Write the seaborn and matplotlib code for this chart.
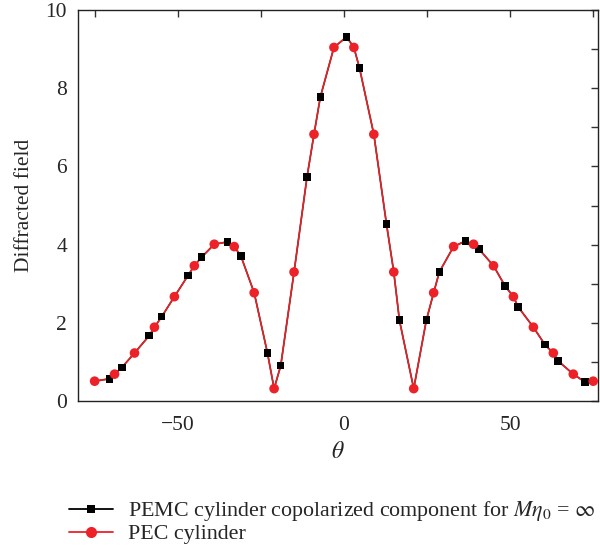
import matplotlib
matplotlib.use("Agg")
import matplotlib.pyplot as plt
import seaborn as sns
import numpy as np
import pandas as pd
from matplotlib.lines import Line2D
from matplotlib.ticker import MultipleLocator

# PEC cylinder (red circles)
pec_theta = [-75, -69, -63, -57, -51, -45, -39, -33, -27, -21, -15, -9, -3,
             3, 9, 15, 21, 27, 33, 39, 45, 51, 57, 63, 69, 75]
pec_value = [0.51, 0.69, 1.23, 1.89, 2.67, 3.46, 4.01, 3.95, 2.77, 0.32, 3.30, 6.82, 9.04,
             9.04, 6.82, 3.30, 0.32, 2.77, 3.95, 4.01, 3.46, 2.67, 1.89, 1.23, 0.69, 0.51]

# PEMC cylinder copolarized component (black squares)
pemc_theta = [-70.6, -66.8, -58.6, -54.8, -46.9, -42.8, -35.0, -31.0, -23.0, -19.0, -11.1, -7.1,
              0.8, 4.7, 12.8, 16.7, 24.8, 28.7, 36.5, 40.6, 48.5, 52.4, 60.5, 64.4, 72.5]
pemc_value = [0.57, 0.86, 1.67, 2.16, 3.21, 3.68, 4.07, 3.71, 1.23, 0.91, 5.73, 7.77,
              9.31, 8.51, 4.53, 2.07, 2.07, 3.30, 4.09, 3.89, 2.94, 2.41, 1.44, 1.03, 0.49]

x_ticks = [-75, -50, -25, 0, 25, 50, 75]
x_labels = ["", "\u221250", "", "0", "", "50", ""]
y_ticks = [0, 2, 4, 6, 8, 10]
y_labels = ["0", "2", "4", "6", "8", "10"]

legend_pemc = r"PEMC cylinder copolarized component for $M\eta_0$ = $\infty$"
legend_pec = "PEC cylinder"

sns.set_style("white")
plt.rcParams["font.family"] = ["Liberation Serif", "DejaVu Serif"]
plt.rcParams["mathtext.fontset"] = "stix"

red = "#ec2228"
line_red = "#d8262b"

pec_df = pd.DataFrame({"theta": pec_theta, "value": pec_value})
pemc_df = pd.DataFrame({"theta": pemc_theta, "value": pemc_value})
both_df = pd.concat([pec_df, pemc_df]).sort_values("theta").reset_index(drop=True)

fig = plt.figure(figsize=(6.0, 5.48), dpi=100)
ax = fig.add_axes([0.13, 0.268, 0.867, 0.714])

sns.lineplot(data=both_df, x="theta", y="value", ax=ax, color="black", lw=1.0,
             sort=True, estimator=None, zorder=2)
sns.lineplot(data=both_df, x="theta", y="value", ax=ax, color=line_red, lw=1.3,
             sort=True, estimator=None, zorder=3)
sns.scatterplot(data=pemc_df, x="theta", y="value", ax=ax, marker="s", s=28,
                color="black", edgecolor="none", linewidth=0, zorder=4)
sns.scatterplot(data=pec_df, x="theta", y="value", ax=ax, marker="o", s=48,
                color=red, edgecolor="none", linewidth=0, zorder=5)

ax.set_xlim(-80, 76.5)
ax.set_ylim(0, 10)
ax.set_xticks(x_ticks)
ax.set_xticklabels(x_labels)
ax.set_yticks(y_ticks)
ax.set_yticklabels(y_labels)
ax.yaxis.set_minor_locator(MultipleLocator(1))
ax.tick_params(which="both", direction="in", length=5, width=1, color="#333333",
               top=True, right=True, labelsize=15.5)
ax.tick_params(axis="x", pad=11)
ax.tick_params(axis="y", pad=8)
for sp in ax.spines.values():
    sp.set_color("#222222")
    sp.set_linewidth(1.0)

ax.set_xlabel(r"$\theta$", fontsize=17, labelpad=5)
ax.set_ylabel("Diffracted field", fontsize=15.5, labelpad=8)

handles = [
    Line2D([0], [0], color="black", lw=1.3, marker="s", markersize=6, markeredgewidth=0),
    Line2D([0], [0], color=red, lw=1.3, marker="o", markersize=8, markeredgewidth=0),
]
fig.legend(handles, [legend_pemc, legend_pec], loc="upper left",
           bbox_to_anchor=(0.1, 0.105), frameon=False, fontsize=15.8,
           handlelength=2.0, handletextpad=0.7, labelspacing=0.03, borderaxespad=0)

fig.savefig("out.png", dpi=100)
